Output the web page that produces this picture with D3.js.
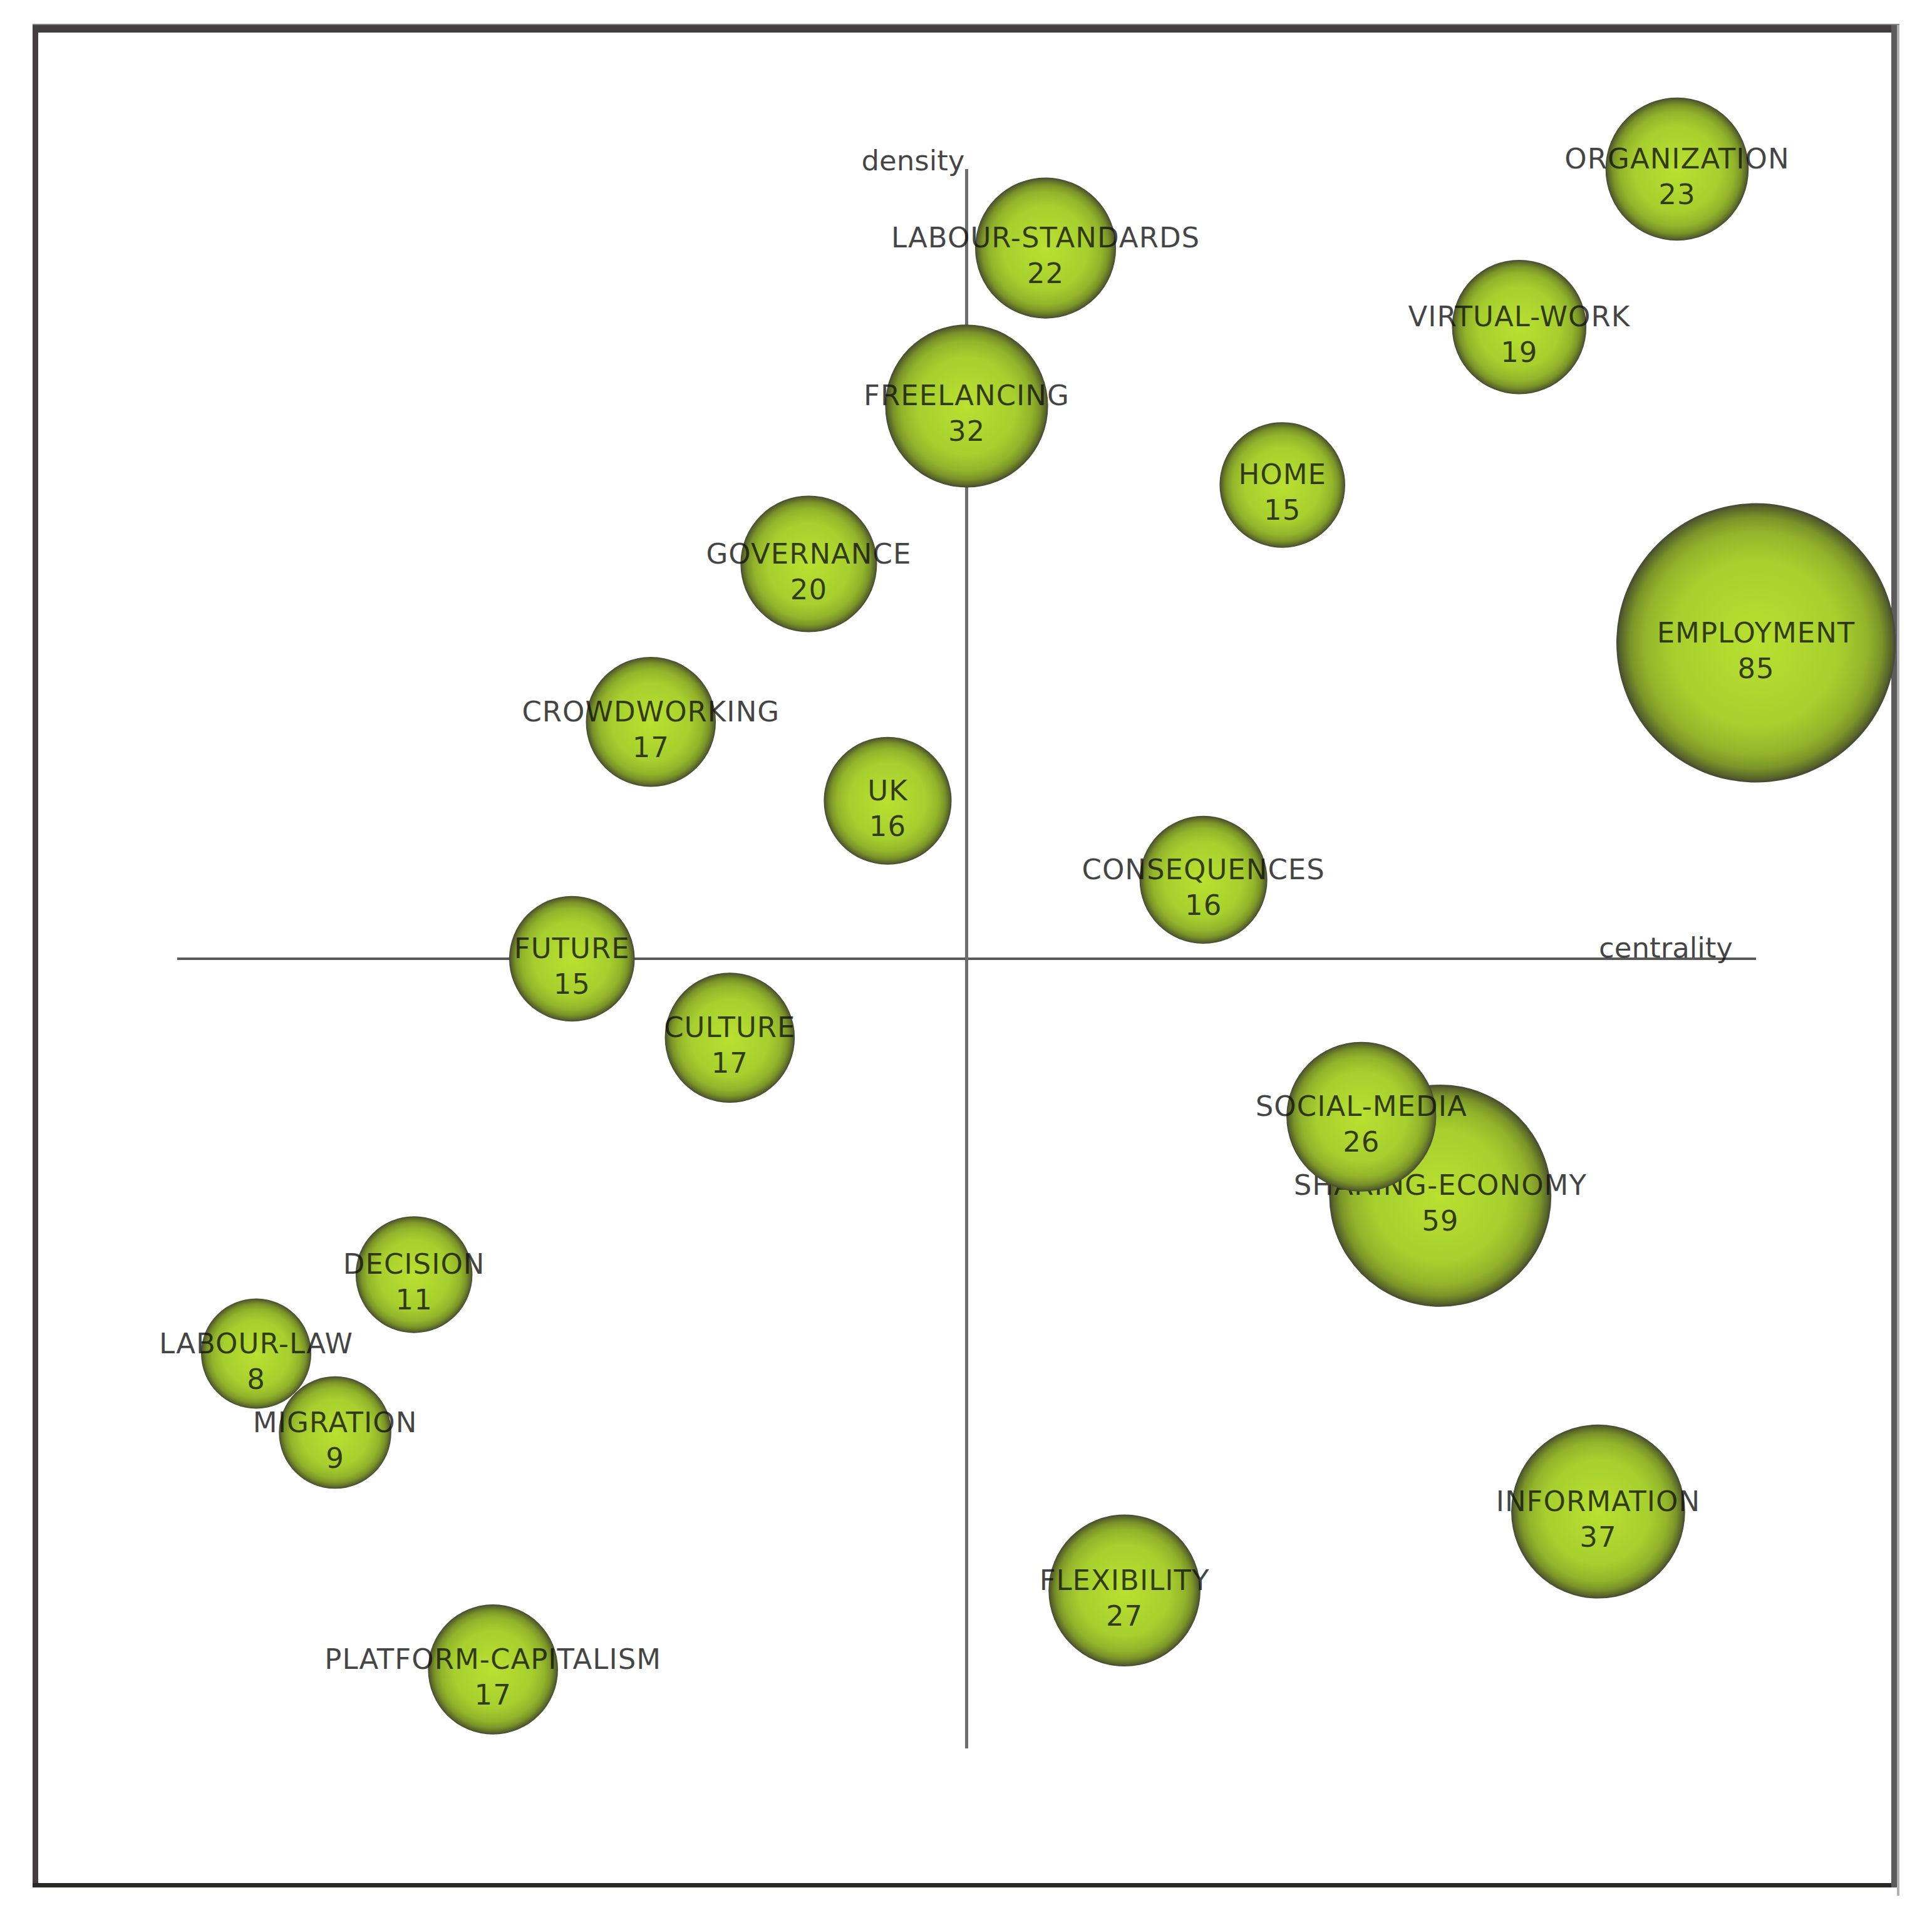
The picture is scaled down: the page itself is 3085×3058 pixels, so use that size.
<!DOCTYPE html>
<html>
<head>
<meta charset="utf-8">
<script src="https://cdn.jsdelivr.net/npm/d3@7"></script>
<style>
    body { margin: 0; background: #fff; }
    text { font-family: "DejaVu Sans", Verdana, sans-serif; }
</style>
</head>
<body>
<div id="chart"></div>
<script>
// themes, in drawing order
var themes = ["LABOUR-STANDARDS", "ORGANIZATION", "VIRTUAL-WORK", "FREELANCING", "HOME",
    "GOVERNANCE", "EMPLOYMENT", "CROWDWORKING", "UK", "CONSEQUENCES", "FUTURE", "CULTURE",
    "SHARING-ECONOMY", "SOCIAL-MEDIA", "DECISION", "LABOUR-LAW", "MIGRATION", "INFORMATION",
    "FLEXIBILITY", "PLATFORM-CAPITALISM"];
// rank on each axis (1..20)
var centrality = [11, 19, 17, 10, 14, 8, 20, 6, 9, 13, 5, 7, 16, 15, 3, 1, 2, 18, 12, 4];
var density    = [19, 20, 18, 17, 16, 15, 14, 13, 12, 11, 10, 9, 7, 8, 6, 5, 4, 3, 2, 1];
// number of documents
var documents  = [22, 23, 19, 32, 15, 20, 85, 17, 16, 16, 15, 17, 59, 26, 11, 8, 9, 37, 27, 17];

var width = 3085, height = 3058;

var svg = d3.select("#chart").append("svg")
    .attr("width", width)
    .attr("height", height);

svg.append("rect").attr("width", width).attr("height", height).attr("fill", "#fff");

var defs = svg.append("defs");
var grad = defs.append("radialGradient").attr("id", "sphere")
    .attr("cx", "50%").attr("cy", "50%").attr("r", "50%");
[[0, "#b9e131"], [0.6, "#a7cf2e"], [0.8, "#92b42b"], [0.9, "#7a9428"],
 [0.97, "#59652a"], [1, "#444733"]].forEach(function(s) {
    grad.append("stop").attr("offset", s[0]).attr("stop-color", s[1]);
});

var x = d3.scaleLinear().domain([0, 20]).range([283, 2804]);
var y = d3.scaleLinear().domain([0, 20]).range([2792, 270]);
var r = d3.scaleLinear().domain([8, 85]).range([88, 223]);

// frame
svg.append("rect").attr("x", 52).attr("y", 38).attr("width", 2981).attr("height", 2).attr("fill", "#8a8688");
svg.append("rect").attr("x", 52).attr("y", 40).attr("width", 2981).attr("height", 12).attr("fill", "#423d3f");
svg.append("rect").attr("x", 52).attr("y", 40).attr("width", 9).attr("height", 2974).attr("fill", "#433f41");
svg.append("rect").attr("x", 52).attr("y", 3007).attr("width", 2977).attr("height", 7).attr("fill", "#2b2727");
svg.append("rect").attr("x", 3020).attr("y", 40).attr("width", 9).attr("height", 2974).attr("fill", "#5c5a5b");
svg.append("rect").attr("x", 3029).attr("y", 40).attr("width", 4).attr("height", 2987).attr("fill", "#b0b0b0");

// axes through the middle rank
svg.append("line")
    .attr("x1", x(0)).attr("x2", x(20)).attr("y1", y(10)).attr("y2", y(10))
    .attr("stroke", "#5a5a5a").attr("stroke-width", 4);
svg.append("line")
    .attr("x1", x(10)).attr("x2", x(10)).attr("y1", y(20)).attr("y2", y(0))
    .attr("stroke", "#6e6e6e").attr("stroke-width", 5);

var textStyle = function(sel) {
    sel.attr("font-size", 45).attr("letter-spacing", 1)
        .attr("fill", "#111").attr("fill-opacity", 0.78);
};

svg.append("text").text("density")
    .attr("x", x(10) - 3).attr("y", y(20) + 2)
    .attr("text-anchor", "end")
    .call(textStyle)
    .attr("letter-spacing", 0);

svg.append("text").text("centrality")
    .attr("x", x(20) - 37).attr("y", y(10) - 2)
    .attr("text-anchor", "end")
    .call(textStyle)
    .attr("letter-spacing", 0);

var data = themes.map(function(t, i) {
    return {name: t, c: centrality[i], d: density[i], n: documents[i]};
});

var node = svg.selectAll("g.theme")
    .data(data)
    .enter().append("g")
    .attr("class", "theme")
    .attr("transform", function(d) { return "translate(" + x(d.c) + "," + y(d.d) + ")"; });

node.append("circle")
    .attr("r", function(d) { return r(d.n); })
    .attr("fill", "url(#sphere)");

node.append("text")
    .text(function(d) { return d.name; })
    .attr("y", -1)
    .attr("text-anchor", "middle")
    .call(textStyle);

node.append("text")
    .text(function(d) { return d.n; })
    .attr("y", 56)
    .attr("text-anchor", "middle")
    .call(textStyle);
</script>
</body>
</html>
